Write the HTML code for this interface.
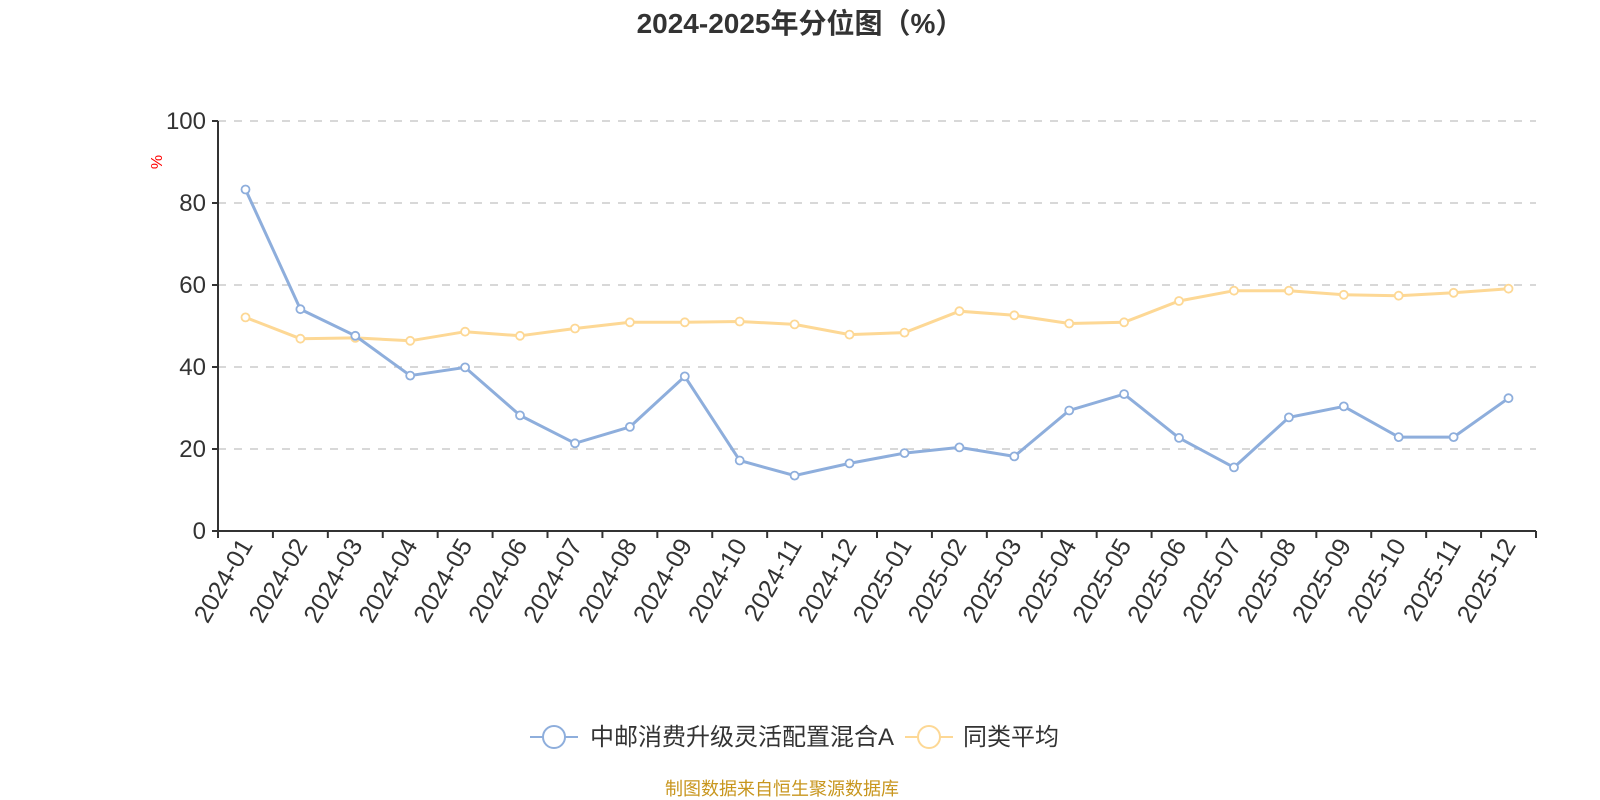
<!DOCTYPE html>
<html><head><meta charset="utf-8"><style>
html,body{margin:0;padding:0;background:#fff;width:1600px;height:800px;overflow:hidden}
text{font-family:"Liberation Sans","Noto Sans CJK SC",sans-serif}
</style></head><body>
<svg id="s" width="1600" height="800" xmlns="http://www.w3.org/2000/svg">
<text x="800" y="33" text-anchor="middle" font-size="28" font-weight="bold" fill="#333">2024-2025年分位图（%）</text>
<text transform="translate(162,162) rotate(-90)" text-anchor="middle" font-size="16" fill="#f00">%</text>
<g id="g"></g>
<g>
<line x1="530" y1="737" x2="578" y2="737" stroke="#8eaedc" stroke-width="2"/>
<circle cx="554" cy="737" r="11" fill="#fff" stroke="#8eaedc" stroke-width="2"/>
<text x="590" y="745" font-size="24" fill="#333">中邮消费升级灵活配置混合A</text>
<line x1="905" y1="737" x2="953" y2="737" stroke="#fdd895" stroke-width="2"/>
<circle cx="929" cy="737" r="11" fill="#fff" stroke="#fdd895" stroke-width="2"/>
<text x="963" y="745" font-size="24" fill="#333">同类平均</text>
</g>
<text x="782" y="795" text-anchor="middle" font-size="18" fill="#c8961e">制图数据来自恒生聚源数据库</text>
</svg>
<script>
var A=[83.3,54.1,47.6,37.9,39.9,28.2,21.4,25.4,37.7,17.2,13.5,16.5,19,20.4,18.2,29.4,33.4,22.7,15.5,27.7,30.4,22.9,22.9,32.4];
var B=[52.1,46.9,47.1,46.4,48.6,47.6,49.4,50.9,50.9,51.1,50.4,47.9,48.4,53.6,52.6,50.6,50.9,56.1,58.6,58.6,57.6,57.4,58.1,59.1];
var x0=218,x1=1536,y0=531,k=4.1,w=(x1-x0)/24,h='';
for(var v=0;v<=100;v+=20){var y=y0-v*k;
 if(v>0)h+='<line x1="'+x0+'" y1="'+y+'" x2="'+x1+'" y2="'+y+'" stroke="#ccc" stroke-width="1.5" stroke-dasharray="8,8"/>';
 h+='<line x1="'+(x0-6)+'" y1="'+y+'" x2="'+x0+'" y2="'+y+'" stroke="#333" stroke-width="2"/>';
 h+='<text x="'+(x0-12)+'" y="'+(y+8)+'" text-anchor="end" font-size="24" fill="#333">'+v+'</text>';}
h+='<line x1="'+x0+'" y1="121" x2="'+x0+'" y2="'+y0+'" stroke="#333" stroke-width="2"/>';
h+='<line x1="'+x0+'" y1="'+y0+'" x2="'+x1+'" y2="'+y0+'" stroke="#333" stroke-width="2"/>';
for(var i=0;i<=24;i++){var x=x0+i*w;h+='<line x1="'+x+'" y1="'+y0+'" x2="'+x+'" y2="'+(y0+7)+'" stroke="#333" stroke-width="2"/>';}
for(var i=0;i<24;i++){var x=x0+(i+.5)*w,lab=(i<12?'2024-':'2025-')+String(i%12+1).padStart(2,'0');
 h+='<text transform="translate('+(x+8)+','+(y0+14)+') rotate(-60)" text-anchor="end" font-size="25" fill="#333">'+lab+'</text>';}
function ser(d,c){var p=d.map(function(v,i){return (x0+(i+.5)*w).toFixed(1)+','+(y0-v*k).toFixed(1)}).join(' ');
 var s='<polyline points="'+p+'" fill="none" stroke="'+c+'" stroke-width="3"/>';
 d.forEach(function(v,i){s+='<circle cx="'+(x0+(i+.5)*w).toFixed(1)+'" cy="'+(y0-v*k).toFixed(1)+'" r="4" fill="#fff" stroke="'+c+'" stroke-width="1.8"/>'});return s;}
h+=ser(B,'#fdd895')+ser(A,'#8eaedc');
document.getElementById('g').innerHTML=h;
</script>
</body></html>
